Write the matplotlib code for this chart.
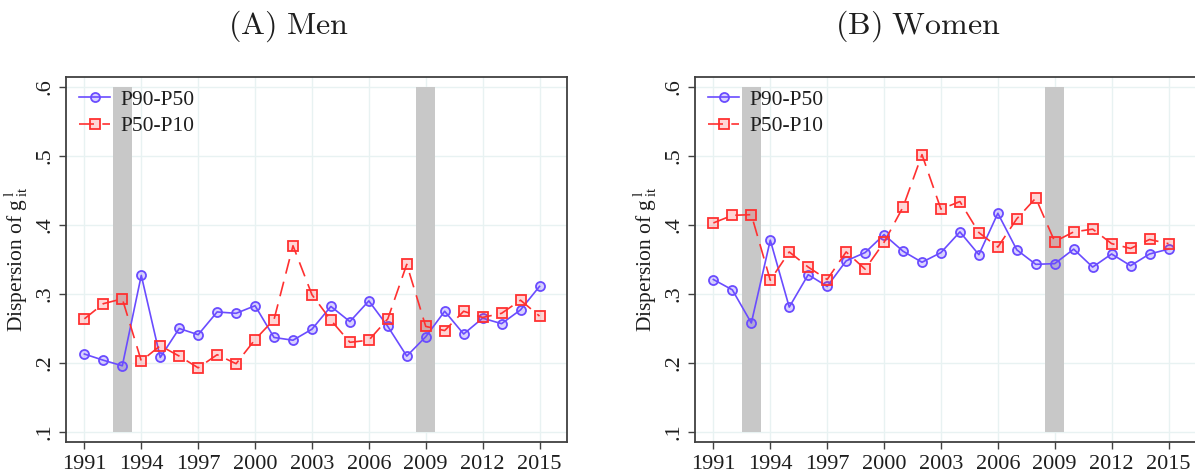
import matplotlib
matplotlib.use("Agg")
import matplotlib.pyplot as plt
import numpy as np

years = list(range(1991, 2016))

men_p90_p50 = [0.213, 0.204, 0.196, 0.327, 0.208, 0.250, 0.241, 0.274, 0.272, 0.283,
               0.237, 0.233, 0.249, 0.282, 0.260, 0.290, 0.253, 0.210, 0.238, 0.275,
               0.242, 0.265, 0.257, 0.277, 0.311]
men_p50_p10 = [0.264, 0.286, 0.293, 0.203, 0.225, 0.210, 0.193, 0.212, 0.199, 0.234,
               0.263, 0.370, 0.299, 0.262, 0.230, 0.233, 0.264, 0.343, 0.253, 0.247,
               0.275, 0.266, 0.272, 0.291, 0.268]
women_p90_p50 = [0.321, 0.306, 0.258, 0.378, 0.281, 0.328, 0.311, 0.348, 0.360, 0.386,
                 0.362, 0.346, 0.360, 0.390, 0.357, 0.417, 0.364, 0.343, 0.344, 0.365,
                 0.339, 0.358, 0.341, 0.358, 0.365]
women_p50_p10 = [0.403, 0.414, 0.415, 0.320, 0.361, 0.339, 0.321, 0.361, 0.336, 0.375,
                 0.426, 0.502, 0.423, 0.434, 0.389, 0.368, 0.409, 0.439, 0.376, 0.390,
                 0.394, 0.373, 0.366, 0.379, 0.373]

recessions = [(1992.5, 1993.5), (2008.5, 2009.5)]
xticks = [1991, 1994, 1997, 2000, 2003, 2006, 2009, 2012, 2015]
yticks = [0.1, 0.2, 0.3, 0.4, 0.5, 0.6]
ytick_labels = [".1", ".2", ".3", ".4", ".5", ".6"]
titles = ["(A) Men", "(B) Women"]
series_labels = ["P90-P50", "P50-P10"]

plt.rcParams['font.family'] = ['Liberation Serif', 'DejaVu Serif']
plt.rcParams['mathtext.fontset'] = 'cm'

W, H = 1195, 473
fig = plt.figure(figsize=(W / 100, H / 100), dpi=100)

blue = '#6a4cff'
red = '#ff3030'
spine_c = '#404040'
grid_c = '#e8f2f2'
txt_c = '#1e1e1e'

panels = [
    (66, men_p90_p50, men_p50_p10, titles[0], 288),
    (695, women_p90_p50, women_p50_p10, titles[1], 918),
]

for left_px, s1, s2, title, tcx in panels:
    ax = fig.add_axes([left_px / W, (H - 442) / H, 501 / W, 365 / H])
    ax.set_xlim(1990.03, 2016.45)
    ax.set_ylim(0.0855, 0.6145)
    for a, b in recessions:
        ax.fill_between([a, b], 0.1, 0.6, color='#c8c8c8', lw=0, zorder=1)
    ax.set_xticks(xticks)
    ax.set_yticks(yticks)
    ax.set_yticklabels(ytick_labels, rotation=90, va='center')
    ax.grid(True, color=grid_c, lw=1.0, zorder=0)
    ax.set_axisbelow(True)
    ax.plot(years, s1, color=blue, lw=1.2, marker='o', ms=6.5,
            mfc=(0.42, 0.30, 1.0, 0.25), mec=blue, mew=1.3, zorder=3,
            label=series_labels[0])
    ax.plot(years, s2, color=red, lw=1.2, marker='s', ms=6.5,
            mfc=(1.0, 0.19, 0.19, 0.2), mec=red, mew=1.3, zorder=3,
            dashes=(9, 5), label=series_labels[1])
    for sp in ax.spines.values():
        sp.set_color(spine_c)
        sp.set_linewidth(1.3)
    ax.tick_params(axis='both', direction='out', length=5, width=1.0,
                   color=spine_c, labelsize=16, labelcolor=txt_c)
    ax.tick_params(axis='y', pad=3)
    ax.tick_params(axis='x', pad=4)
    ax.set_ylabel(r'Dispersion of g$^{\,\mathregular{l}}_{\,\mathregular{it}}$',
                  fontsize=15.5, color=txt_c, labelpad=4)
    leg = ax.legend(loc='upper left', frameon=False, fontsize=15.5,
                    handlelength=1.45, handletextpad=0.5, borderaxespad=0.3,
                    borderpad=0.3, labelspacing=0.28)
    for t in leg.get_texts():
        t.set_color(txt_c)
    fig.text(tcx / W, 1 - 26 / H, r'$\mathrm{' + title.replace(' ', r'\ ') + '}$',
             ha='center', va='center', fontsize=23, color=txt_c)

fig.savefig('out.png', dpi=100)
